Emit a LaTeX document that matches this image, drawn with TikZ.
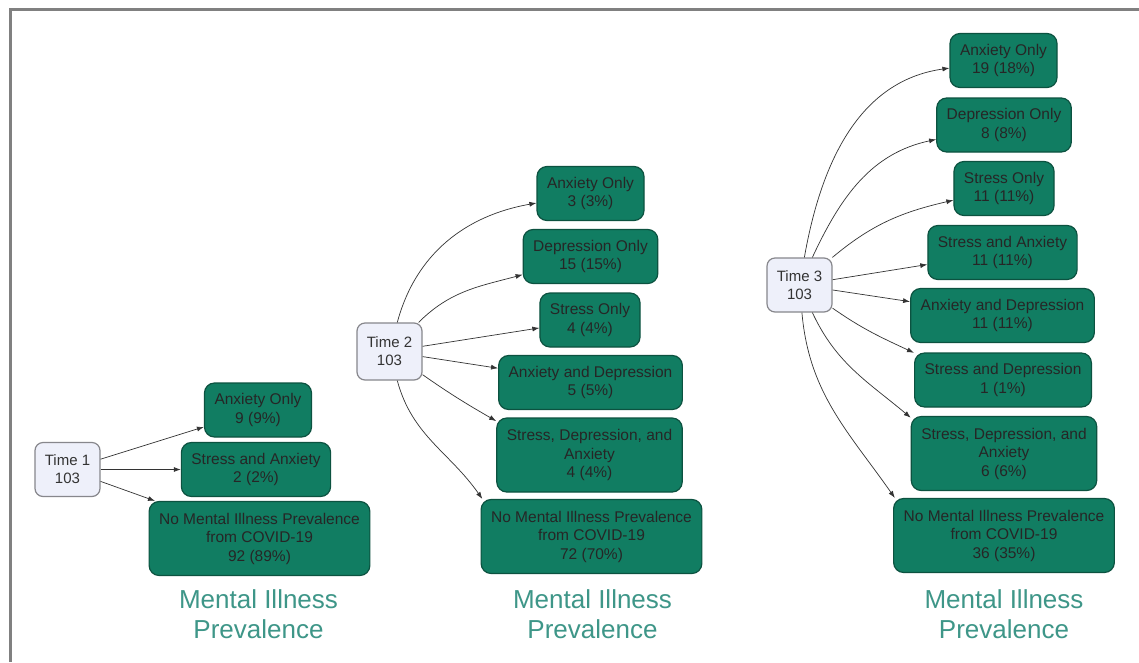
\documentclass[tikz,border=0pt]{standalone}
\usepackage{fontspec}
\setmainfont{Liberation Sans}
\usepackage{xcolor}
\usepackage{tikz}
\usetikzlibrary{arrows.meta,positioning}
\definecolor{boxgreen}{RGB}{17,125,98}
\definecolor{boxedge}{RGB}{12,82,64}
\definecolor{timefill}{RGB}{238,240,250}
\definecolor{timeedge}{RGB}{135,135,140}
\definecolor{captionteal}{RGB}{62,150,136}
\tikzset{
	prev box/.style={draw=boxedge,fill=boxgreen,line width=1.2pt,rounded corners=10pt,align=center,
		font=\fontsize{15.5}{18.5}\selectfont,text=black!85,inner xsep=10pt,minimum height=54pt},
	prev big/.style={prev box,minimum height=74pt},
	time box/.style={draw=timeedge,fill=timefill,line width=1.2pt,rounded corners=8pt,align=center,
		font=\fontsize{15}{18}\selectfont,text=black!80,minimum width=65pt,minimum height=54pt},
	caption/.style={align=center,text=captionteal,font=\fontsize{26}{30}\selectfont},
	arr/.style={draw=black!80,line width=0.7pt,-{Latex[length=7pt,width=5pt]}}
}

\begin{document}
\begin{tikzpicture}[x=1pt,y=1pt]
	\useasboundingbox (0,0) rectangle (1139,-662);
	\fill[white] (0,0) rectangle (1139,-662);
	
	% frame
	\draw[gray,line width=3pt] (1139,-9.5) -- (10.5,-9.5) -- (10.5,-662);
	
	% time 1
	\node[time box] (t1) at (67.5,-469.5) {Time 1\\103};
	\node[prev box] (t1a) at (258,-410) {Anxiety Only\\9 (9\%)};
	\node[prev box] (t1b) at (256,-469.5) {Stress and Anxiety\\2 (2\%)};
	\node[prev big] (t1c) at (259.5,-538.5) {No Mental Illness Prevalence\\from COVID-19\\92 (89\%)};
	\node[caption] (cap1) at (258.5,-614) {Mental Illness\\Prevalence};
	
	\draw[arr] (t1) -- (t1a);
	\draw[arr] (t1) -- (t1b);
	\draw[arr] (t1) -- (t1c);
	
	% time 2
	\node[time box,minimum height=57pt] (t2) at (389.5,-351.5) {Time 2\\103};
	\node[prev box] (t2a) at (590.5,-193.5) {Anxiety Only\\3 (3\%)};
	\node[prev box] (t2b) at (590.5,-256.5) {Depression Only\\15 (15\%)};
	\node[prev box] (t2c) at (590,-320) {Stress Only\\4 (4\%)};
	\node[prev box] (t2d) at (590.5,-382.5) {Anxiety and Depression\\5 (5\%)};
	\node[prev big] (t2e) at (589.5,-455) {Stress, Depression, and\\Anxiety\\4 (4\%)};
	\node[prev big] (t2f) at (591.5,-536.5) {No Mental Illness Prevalence\\from COVID-19\\72 (70\%)};
	\node[caption] (cap2) at (592.5,-614) {Mental Illness\\Prevalence};
	
	\draw[arr] (t2) to[out=75,in=190] (t2a);
	\draw[arr] (t2) to[out=45,in=195] (t2b);
	\draw[arr] (t2) -- (t2c);
	\draw[arr] (t2) -- (t2d);
	\draw[arr] (t2) to[out=-35,in=150] (t2e.160);
	\draw[arr] (t2) to[out=-75,in=125] (t2f.161);
	
	% time 3
	\node[time box] (t3) at (799.5,-285) {Time 3\\103};
	\node[prev box] (t3a) at (1003.5,-60.5) {Anxiety Only\\19 (18\%)};
	\node[prev box] (t3b) at (1004,-125) {Depression Only\\8 (8\%)};
	\node[prev box] (t3c) at (1004,-188.5) {Stress Only\\11 (11\%)};
	\node[prev box] (t3d) at (1002.5,-252.5) {Stress and Anxiety\\11 (11\%)};
	\node[prev box] (t3e) at (1002.5,-315.5) {Anxiety and Depression\\11 (11\%)};
	\node[prev box] (t3f) at (1003,-380) {Stress and Depression\\1 (1\%)};
	\node[prev big] (t3g) at (1004,-453.5) {Stress, Depression, and\\Anxiety\\6 (6\%)};
	\node[prev big] (t3h) at (1004,-535.5) {No Mental Illness Prevalence\\from COVID-19\\36 (35\%)};
	\node[caption] (cap3) at (1004,-614) {Mental Illness\\Prevalence};
	
	\draw[arr] (t3) to[out=80,in=188] (t3a);
	\draw[arr] (t3) to[out=65,in=192] (t3b);
	\draw[arr] (t3) to[out=40,in=193] (t3c);
	\draw[arr] (t3) -- (t3d);
	\draw[arr] (t3) -- (t3e);
	\draw[arr] (t3) to[out=-35,in=155] (t3f.163);
	\draw[arr] (t3) to[out=-65,in=140] (t3g.159);
	\draw[arr] (t3) to[out=-85,in=125] (t3h.161);
	
\end{tikzpicture}
\end{document}
